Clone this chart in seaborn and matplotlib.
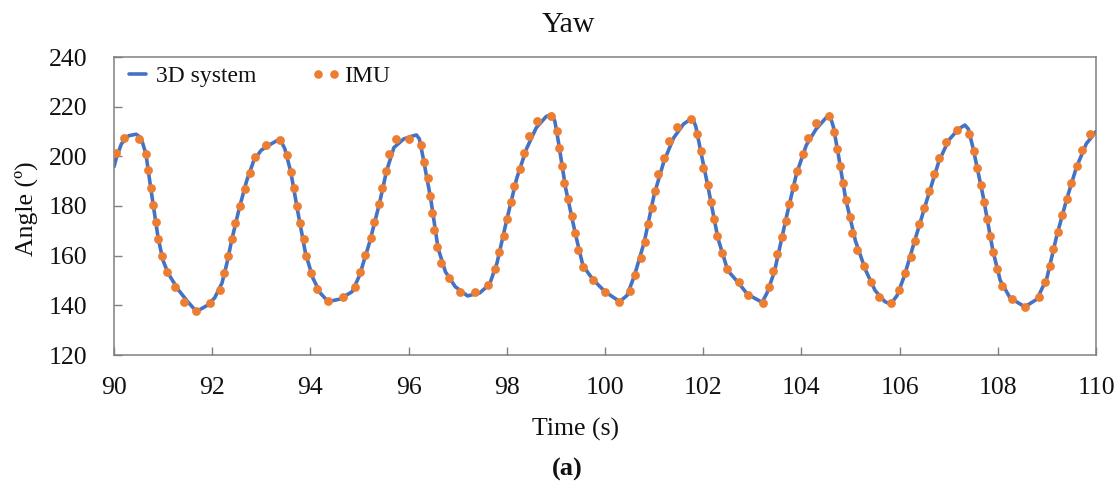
import numpy as np
import pandas as pd
import matplotlib
matplotlib.use("Agg")
import matplotlib.pyplot as plt
from matplotlib.lines import Line2D
import seaborn as sns

# ---------------- data ----------------
time_3d = [90.00, 90.05, 90.15, 90.30, 90.45, 90.55, 90.65, 90.75, 90.90, 91.00, 91.10, 91.30, 91.50,
           91.68, 91.90, 92.05, 92.20, 92.30, 92.40, 92.55, 92.70, 92.85, 93.00, 93.20, 93.38, 93.48,
           93.60, 93.75, 93.90, 94.05, 94.20, 94.36, 94.60, 94.85, 95.00, 95.20, 95.40, 95.55, 95.70,
           95.90, 96.05, 96.16, 96.22, 96.30, 96.45, 96.60, 96.75, 96.95, 97.20, 97.45, 97.65, 97.80,
           98.00, 98.20, 98.40, 98.60, 98.80, 98.92, 98.98, 99.05, 99.20, 99.40, 99.55, 99.75, 100.00,
           100.30, 100.45, 100.60, 100.80, 101.00, 101.20, 101.40, 101.60, 101.78, 101.85, 101.95,
           102.10, 102.30, 102.50, 102.70, 102.90, 103.20, 103.30, 103.45, 103.70, 103.90, 104.10,
           104.30, 104.50, 104.57, 104.65, 104.75, 104.90, 105.10, 105.30, 105.50, 105.70, 105.82,
           105.95, 106.10, 106.30, 106.55, 106.80, 107.00, 107.20, 107.33, 107.40, 107.50, 107.70,
           107.90, 108.05, 108.25, 108.55, 108.80, 109.00, 109.20, 109.40, 109.60, 109.80, 110.00]
angle_3d = [195.8, 199.5, 205.0, 208.3, 208.9, 207.5, 201.0, 187.0, 167.0, 158.0, 153.0, 146.5, 141.5,
            137.5, 140.0, 143.0, 149.0, 157.0, 166.5, 179.0, 190.0, 198.5, 202.5, 205.0, 207.0, 203.0,
            193.8, 177.0, 161.0, 151.0, 145.0, 141.5, 142.5, 145.5, 152.0, 165.0, 180.5, 194.0, 203.5,
            207.0, 208.0, 208.6, 207.0, 199.0, 183.0, 163.0, 153.5, 147.5, 143.8, 145.0, 148.5, 157.0,
            174.5, 191.0, 203.0, 211.5, 216.0, 217.0, 214.0, 206.0, 187.0, 168.5, 156.0, 150.5, 145.5,
            141.5, 144.0, 152.0, 165.5, 184.5, 198.0, 207.5, 213.0, 215.5, 212.0, 202.0,
            187.5, 167.0, 154.0, 149.5, 144.5, 141.2, 145.0, 153.5, 176.0, 193.0, 204.5,
            211.0, 215.5, 217.0, 212.0, 201.0, 183.0, 166.0, 154.5, 146.0, 141.5, 140.5,
            144.0, 152.0, 165.5, 182.0, 198.0, 206.5, 211.0, 212.6, 211.0, 203.0, 184.0,
            162.0, 150.0, 143.0, 139.4, 142.5, 151.0, 168.0, 182.5, 195.5, 205.0, 210.0]

time_imu = [90.05, 90.20, 90.50, 90.65, 90.70, 90.75, 90.80, 90.86, 90.90, 90.97, 91.07, 91.24, 91.43,
            91.68, 91.96, 92.15, 92.25, 92.32, 92.40, 92.47, 92.57, 92.66, 92.76, 92.87, 93.09, 93.38,
            93.53, 93.60, 93.67, 93.72, 93.79, 93.86, 93.92, 94.01, 94.13, 94.36, 94.67, 94.91, 95.02,
            95.12, 95.23, 95.30, 95.39, 95.46, 95.53, 95.61, 95.74,
            96.01, 96.25, 96.32, 96.39, 96.44, 96.48, 96.52, 96.58, 96.66, 96.83, 97.05, 97.35, 97.61,
            97.75, 97.85, 97.94, 98.01, 98.09, 98.15, 98.26, 98.36, 98.46, 98.61, 98.90, 99.03, 99.07,
            99.12, 99.17, 99.24, 99.32, 99.39, 99.46, 99.56, 99.76, 100.01, 100.29, 100.50, 100.61,
            100.73, 100.81, 100.88, 100.95, 101.02, 101.07, 101.20, 101.30, 101.46,
            101.75, 101.88, 101.95, 102.00, 102.09, 102.16, 102.22, 102.29, 102.38, 102.49, 102.72,
            102.92, 103.21, 103.35, 103.43, 103.51, 103.60, 103.68, 103.75, 103.84, 103.92, 104.03,
            104.13, 104.29, 104.57, 104.66, 104.73, 104.79, 104.84, 104.91, 104.98, 105.04, 105.14,
            105.27, 105.41, 105.58, 105.82, 105.99, 106.12, 106.23, 106.31, 106.40, 106.50, 106.60,
            106.70, 106.81, 106.95, 107.16,
            107.42, 107.52, 107.58, 107.65, 107.72, 107.79, 107.84, 107.91, 107.98, 108.08, 108.28,
            108.55, 108.83, 108.96, 109.06, 109.12, 109.22, 109.31, 109.41, 109.50, 109.61, 109.72,
            109.88]
angle_imu = [201.2, 207.5, 207.1, 200.9, 194.5, 187.4, 180.4, 173.7, 166.7, 159.9, 153.3, 147.3, 141.5,
             137.8, 140.8, 146.2, 152.9, 159.9, 166.6, 173.3, 180.0, 186.7, 193.2, 199.9, 204.4, 206.6,
             200.5, 193.8, 187.1, 180.1, 173.3, 166.6, 159.9, 153.1, 146.4, 141.9, 143.2, 147.3, 153.5,
             160.3, 167.0, 173.7, 180.7, 187.4, 194.1, 200.8, 207.0,
             207.0, 204.6, 197.8, 191.1, 184.1, 177.3, 170.3, 163.6, 156.9, 150.9, 145.5, 145.5, 148.2,
             154.7, 161.3, 167.9, 174.8, 181.5, 188.2, 194.9, 201.2, 208.2, 214.3, 216.4, 210.2, 203.2,
             196.2, 189.4, 182.7, 176.0, 169.0, 162.3, 155.5, 150.2, 145.5, 141.5, 145.9, 152.2,
             158.9, 165.6, 172.6, 179.3, 186.0, 192.8, 199.4, 206.2, 211.9,
             215.0, 208.9, 202.1, 195.2, 188.4, 181.5, 174.8, 167.9, 161.2, 154.6, 149.5,
             144.2, 141.0, 147.3, 153.8, 160.7, 167.4, 174.0, 180.8, 187.5, 194.2, 200.9,
             207.5, 213.5, 216.4, 209.9, 202.9, 196.1, 189.1, 182.4, 175.7, 169.0, 162.3,
             155.8, 149.5, 143.5, 140.8, 146.2, 152.9, 159.3, 166.0, 172.7, 179.3, 186.0,
             192.8, 199.2, 205.6, 210.6,
             208.9, 202.1, 195.4, 188.4, 181.7, 174.8, 168.0, 161.3, 154.5, 147.8, 142.5,
             139.4, 143.2, 149.5, 155.9, 162.7, 169.6, 176.4, 182.8, 189.4, 196.1, 202.5,
             208.9]

x_ticks = [90, 92, 94, 96, 98, 100, 102, 104, 106, 108, 110]
y_ticks = [120, 140, 160, 180, 200, 220, 240]

series_names = ["3D system", "IMU"]
title = "Yaw"
x_label = "Time (s)"
y_label = "Angle (º)"
panel_label = "(a)"

# ---------------- style ----------------
BLUE = "#4472C4"
ORANGE = "#ED7D31"
SPINE = "#808080"
TXT = "#111111"

sns.set_theme(style="white")
plt.rcParams["font.family"] = ["Liberation Serif", "DejaVu Serif"]

fig = plt.figure(figsize=(11.2, 4.95), dpi=100)
ax = fig.add_axes([114 / 1120, 1 - 355 / 495, (1096 - 114) / 1120, (355 - 57) / 495])

df3d = pd.DataFrame({"t": time_3d, "a": angle_3d})
dfimu = pd.DataFrame({"t": time_imu, "a": angle_imu})

sns.lineplot(data=df3d, x="t", y="a", ax=ax, color=BLUE, linewidth=2.6,
             sort=False, estimator=None, zorder=2, legend=False)
sns.scatterplot(data=dfimu, x="t", y="a", ax=ax, color=ORANGE, s=40,
                linewidth=0, zorder=3, legend=False)

ax.set_xlim(90, 110)
ax.set_ylim(120, 240)
ax.set_xticks(x_ticks)
ax.set_yticks(y_ticks)
ax.set_xticklabels([str(v) for v in x_ticks])
ax.set_yticklabels([str(v) for v in y_ticks])
ax.tick_params(axis="both", direction="in", length=6, width=1.0, color=SPINE,
               labelsize=18.5, labelcolor=TXT)
ax.tick_params(axis="x", pad=16, bottom=True)
ax.tick_params(axis="y", pad=19, left=True)
for sp in ax.spines.values():
    sp.set_color(SPINE)
    sp.set_linewidth(1.1)
    sp.set_visible(True)
ax.grid(False)

ax.set_xlabel(x_label, fontsize=18.5, color=TXT)
ax.set_ylabel(y_label, fontsize=18.5, color=TXT)
ax.xaxis.set_label_coords((575 - 114) / 982, (355 - 429) / 298)
ax.yaxis.set_label_coords((26 - 114) / 982, 0.49)
ax.xaxis.label.set_va("center")
ax.yaxis.label.set_va("center")

fig.text(568 / 1120, 1 - 25 / 495, title, ha="center", va="center",
         fontsize=21.5, color=TXT)
fig.text(567 / 1120, 1 - 469 / 495, panel_label, ha="center", va="center",
         fontsize=19, fontweight="bold", color=TXT)

handles = [Line2D([], [], color=BLUE, linewidth=2.6),
           Line2D([], [], color=ORANGE, linestyle="none", marker="o", markersize=6.2,
                  markeredgewidth=0)]
leg = ax.legend(handles, series_names, loc="upper left", ncol=2, frameon=False,
                fontsize=17, numpoints=2, handlelength=1.3, handletextpad=0.12,
                columnspacing=2.3, borderaxespad=0.15, borderpad=0.2)
for t in leg.get_texts():
    t.set_color(TXT)

fig.savefig("out.png", dpi=100)
